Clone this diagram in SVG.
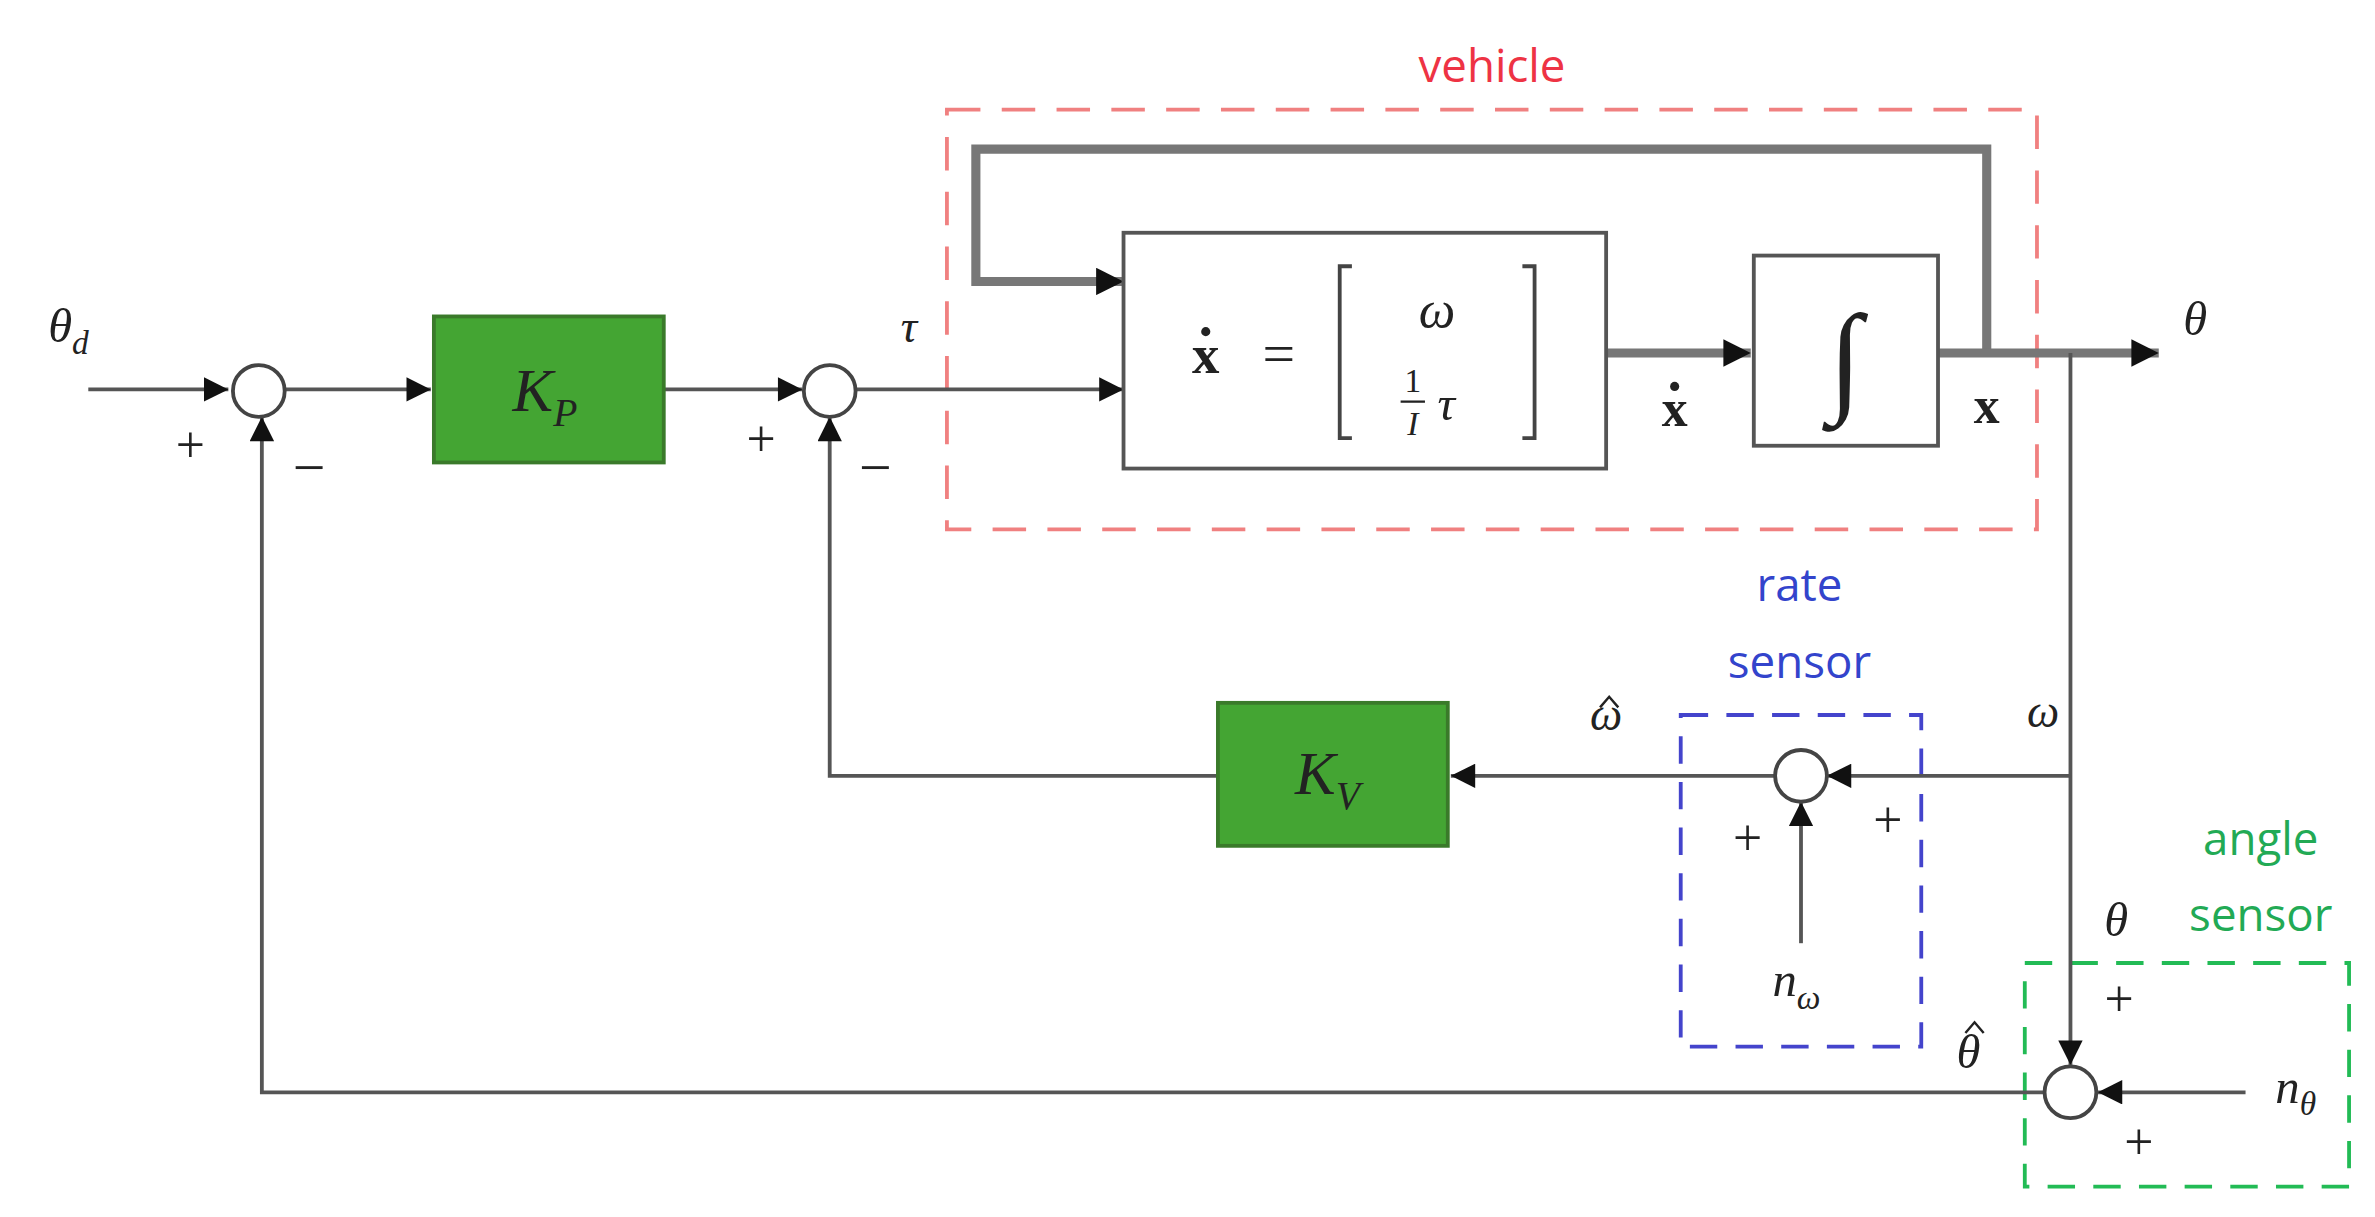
<svg xmlns="http://www.w3.org/2000/svg" width="2375" height="1217" viewBox="0 0 2375 1217">
<defs>
<marker id="ah" viewBox="0 0 10 10" refX="10" refY="5" markerWidth="22" markerHeight="16" markerUnits="userSpaceOnUse" orient="auto"><path d="M0,0L10,5L0,10z" fill="#111"/></marker>
<marker id="ahb" viewBox="0 0 10 10" refX="10" refY="5" markerWidth="24" markerHeight="18" markerUnits="userSpaceOnUse" orient="auto"><path d="M0,0L10,5L0,10z" fill="#111"/></marker>
</defs>
<style>
.w{fill:none;stroke:#555;stroke-width:2.5}
.t{fill:none;stroke:#777;stroke-width:6}
.blk{fill:#fff;stroke:#555;stroke-width:2.5}
.g{fill:#44a533;stroke:#3a7a2a;stroke-width:2.5}
.s{fill:#fff;stroke:#444;stroke-width:2.5}
.hat{fill:none;stroke:#222;stroke-width:1.6}
.m{font-family:"Liberation Serif",serif;font-style:italic;fill:#222}
.r{font-family:"Liberation Serif",serif;fill:#222}
.lab{font-family:"Open Sans","Liberation Sans",sans-serif;font-size:30px;text-anchor:middle}
</style>
<rect width="2375" height="1217" fill="#fff"/>
<g transform="scale(1.5224,1.5213)">
<g id="vehicle">
<rect x="622" y="72" width="716" height="276" fill="none" stroke="#f08080" stroke-width="2.5" stroke-dasharray="22,14"/>
<text x="980" y="54" class="lab" fill="#ee3344">vehicle</text>
</g>
<g id="rate-sensor">
<rect x="1104" y="470" width="158" height="218" fill="none" stroke="#4444cc" stroke-width="2.5" stroke-dasharray="18,12"/>
<text x="1182" y="395" class="lab" fill="#3344cc">rate</text>
<text x="1182" y="446" class="lab" fill="#3344cc">sensor</text>
</g>
<g id="angle-sensor">
<rect x="1330" y="633" width="213" height="147" fill="none" stroke="#22bb55" stroke-width="2.5" stroke-dasharray="18,12"/>
<text x="1485" y="562" class="lab" fill="#22aa55">angle</text>
<text x="1485" y="612" class="lab" fill="#22aa55">sensor</text>
</g>
<g id="connectors">
<path class="w" d="M58,256H150" marker-end="url(#ah)"/>
<path class="w" d="M187,256H283" marker-end="url(#ah)"/>
<path class="w" d="M436,256H527" marker-end="url(#ah)"/>
<path class="w" d="M562,256H738" marker-end="url(#ah)"/>
<path class="t" d="M1305,232V98H641V185H738" marker-end="url(#ahb)"/>
<path class="t" d="M1055,232H1150" marker-end="url(#ahb)"/>
<path class="t" d="M1273,232H1418" marker-end="url(#ahb)"/>
<path class="w" d="M1360,232V700" marker-end="url(#ah)"/>
<path class="w" d="M1360,510H1200" marker-end="url(#ah)"/>
<path class="w" d="M1183,620V527" marker-end="url(#ah)"/>
<path class="w" d="M1166,510H953" marker-end="url(#ah)"/>
<path class="w" d="M800,510H545V274" marker-end="url(#ah)"/>
<path class="w" d="M1475,718H1378" marker-end="url(#ah)"/>
<path class="w" d="M1343,718H172V274" marker-end="url(#ah)"/>
</g>
<g id="sum1"><circle class="s" cx="170" cy="257" r="17"/>
<text x="125" y="304" class="r" font-size="34" text-anchor="middle">+</text>
<text x="203" y="320" class="r" font-size="38" text-anchor="middle">−</text></g>
<g id="KP"><rect class="g" x="285" y="208" width="151" height="96"/>
<text x="358" y="270" class="m" font-size="40" text-anchor="middle">K<tspan font-size="26" dy="10">P</tspan></text></g>
<g id="sum2"><circle class="s" cx="545" cy="257" r="17"/>
<text x="500" y="300" class="r" font-size="34" text-anchor="middle">+</text>
<text x="575" y="320" class="r" font-size="38" text-anchor="middle">−</text>
<text x="597" y="225" class="m" font-size="30" text-anchor="middle">τ</text></g>
<g id="plant"><rect class="blk" x="738" y="153" width="317" height="155"/>
<text x="792" y="245" class="r" font-size="36" font-weight="bold" text-anchor="middle">x</text>
<circle cx="792" cy="218" r="3" fill="#222"/>
<text x="840" y="245" class="r" font-size="38" text-anchor="middle">=</text>
<path d="M888,175H880V288H888M1000,175H1008V288H1000" fill="none" stroke="#444" stroke-width="2.5"/>
<text x="944" y="215" class="m" font-size="34" text-anchor="middle">ω</text>
<text x="928" y="258" class="r" font-size="22" text-anchor="middle">1</text>
<line x1="920" y1="264" x2="936" y2="264" stroke="#222" stroke-width="1.5"/>
<text x="928" y="286" class="m" font-size="22" text-anchor="middle">I</text>
<text x="950" y="276" class="m" font-size="32" text-anchor="middle">τ</text></g>
<g id="xdot-label"><text x="1100" y="280" class="r" font-size="34" font-weight="bold" text-anchor="middle">x</text><circle cx="1100" cy="254" r="3" fill="#222"/></g>
<g id="integrator"><rect class="blk" x="1152" y="168" width="121" height="125"/>
<text x="1212" y="262" class="r" font-size="80" text-anchor="middle">∫</text></g>
<text x="1305" y="278" class="r" font-size="34" font-weight="bold" text-anchor="middle">x</text>
<text x="1442" y="220" class="m" font-size="32" text-anchor="middle">θ</text>
<text x="45" y="225" class="m" font-size="32" text-anchor="middle">θ<tspan font-size="22" dy="8">d</tspan></text>
<text x="1342" y="478" class="m" font-size="30" text-anchor="middle">ω</text>
<g id="rate-sum"><circle class="s" cx="1183" cy="510" r="17"/>
<text x="1240" y="550" class="r" font-size="34" text-anchor="middle">+</text>
<text x="1148" y="562" class="r" font-size="34" text-anchor="middle">+</text>
<text x="1180" y="655" class="m" font-size="32" text-anchor="middle">n<tspan font-size="22" dy="8">ω</tspan></text></g>
<g id="KV"><rect class="g" x="800" y="462" width="151" height="94"/>
<text x="872" y="522" class="m" font-size="40" text-anchor="middle">K<tspan font-size="26" dy="10">V</tspan></text></g>
<text x="1055" y="480" class="m" font-size="30" text-anchor="middle">ω</text>
<path class="hat" d="M1051,465L1057,458L1063,465"/>
<g id="angle-sum"><circle class="s" cx="1360" cy="718" r="17"/>
<text x="1392" y="668" class="r" font-size="34" text-anchor="middle">+</text>
<text x="1405" y="762" class="r" font-size="34" text-anchor="middle">+</text>
<text x="1390" y="615" class="m" font-size="32" text-anchor="middle">θ</text>
<text x="1293" y="702" class="m" font-size="32" text-anchor="middle">θ</text>
<path class="hat" d="M1291,679L1297,672L1303,679"/>
<text x="1508" y="725" class="m" font-size="32" text-anchor="middle">n<tspan font-size="22" dy="8">θ</tspan></text></g>
</g>
</svg>
